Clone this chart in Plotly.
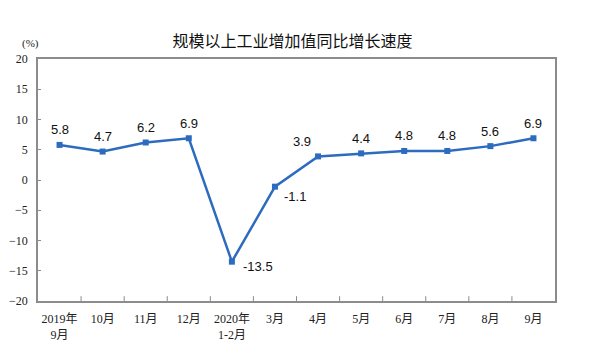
import plotly.graph_objects as go

categories = ["2019年<br>9月", "10月", "11月", "12月", "2020年<br>1-2月", "3月",
              "4月", "5月", "6月", "7月", "8月", "9月"]
values = [5.8, 4.7, 6.2, 6.9, -13.5, -1.1, 3.9, 4.4, 4.8, 4.8, 5.6, 6.9]
y_ticks = [20, 15, 10, 5, 0, -5, -10, -15, -20]
title_text = "规模以上工业增加值同比增长速度"
unit_text = "(%)"

line_color = "#2D6BBF"
axis_color = "#8C8C8C"
serif = "Liberation Serif, Noto Sans CJK SC, serif"
sans = "Liberation Sans, Arial, sans-serif"

fig = go.Figure()
fig.add_trace(go.Scatter(
    x=list(range(len(categories))), y=values, mode="lines+markers",
    line=dict(color=line_color, width=2.5),
    marker=dict(symbol="square", size=6, color=line_color),
    hoverinfo="skip",
))

# data labels
offsets = {4: (26, -5), 5: (20, -10), 6: (-16, 15)}
for i, v in enumerate(values):
    dx, dy = offsets.get(i, (0, 15))
    fig.add_annotation(x=i, y=v, text=f"{v:g}", showarrow=False,
                       xshift=dx, yshift=dy,
                       font=dict(family=sans, size=13, color="#111111"))

fig.update_layout(
    width=597, height=358,
    margin=dict(l=38, r=42, t=59, b=57),
    paper_bgcolor="white", plot_bgcolor="white",
    showlegend=False,
    title=dict(text=title_text, x=0.49, xanchor="center", y=0.885, yanchor="middle",
               font=dict(family="Noto Sans CJK SC", size=16, color="#111111")),
    xaxis=dict(
        range=[-0.5, len(categories) - 0.5], automargin=False,
        tickmode="array", tickvals=list(range(len(categories))), ticktext=categories,
        showgrid=False, zeroline=False,
        showline=True, linecolor=axis_color, linewidth=1.5, mirror=True,
        ticks="", ticklabelstandoff=6,
        tickfont=dict(family=serif, size=12, color="#222222"),
    ),
    yaxis=dict(
        range=[-20, 20], tickmode="array", tickvals=y_ticks, automargin=False,
        showgrid=False, zeroline=False,
        showline=True, linecolor=axis_color, linewidth=1.5, mirror=True,
        ticks="inside", ticklen=3, tickcolor=axis_color, ticklabelstandoff=6,
        tickfont=dict(family=serif, size=12, color="#222222"),
    ),
)

# category boundary ticks (inside, upward)
for b in range(1, len(categories)):
    fig.add_shape(type="line", xref="x", yref="paper", x0=b - 0.5, x1=b - 0.5,
                  y0=0, y1=0.02, line=dict(color=axis_color, width=1))

fig.add_annotation(xref="paper", yref="paper", x=-0.015, y=1.065, text=unit_text,
                   showarrow=False, xanchor="center", yanchor="middle",
                   font=dict(family=serif, size=11, color="#222222"))

fig.write_html("out.html", config={"displayModeBar": False},
               post_script="document.body.style.margin='0';")
